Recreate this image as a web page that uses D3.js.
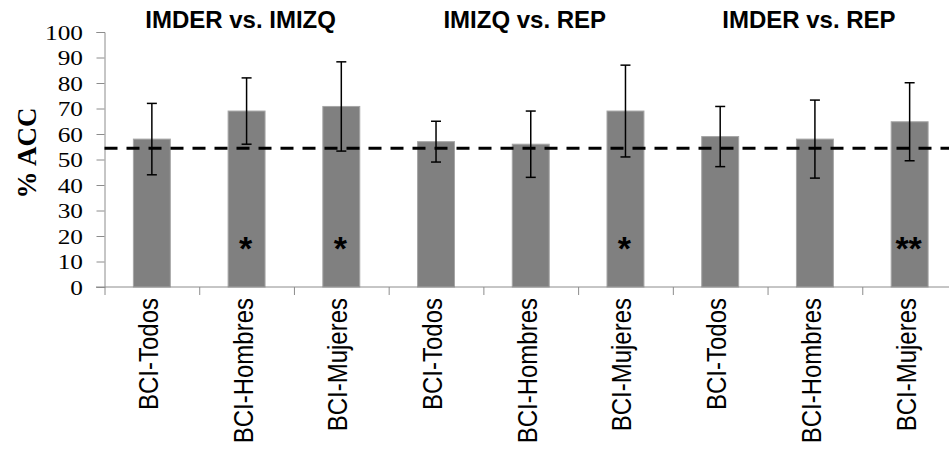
<!DOCTYPE html>
<html>
<head>
<meta charset="utf-8">
<script src="https://cdn.jsdelivr.net/npm/d3@7"></script>
<style>
  html, body { margin: 0; padding: 0; background: #fff; }
</style>
</head>
<body>
<div id="viz"></div>
<script>
// Data (% ACC per classifier, three comparisons).
var categories = ["BCI-Todos", "BCI-Hombres", "BCI-Mujeres",
                  "BCI-Todos", "BCI-Hombres", "BCI-Mujeres",
                  "BCI-Todos", "BCI-Hombres", "BCI-Mujeres"];
var accValues  = [58, 69, 70.8, 57, 56, 69, 59, 58, 64.8];
var accErrors  = [14, 13, 17.5, 8, 13, 18, 11.8, 15.3, 15.3];
var signif     = ["", "*", "*", "", "", "*", "", "", "**"];
var groupTitles = ["IMDER vs. IMIZQ", "IMIZQ vs. REP", "IMDER vs. REP"];
var yTicks     = [0, 10, 20, 30, 40, 50, 60, 70, 80, 90, 100];
var chanceLevel = 54.4;
var starLevel   = 17.4;

var width = 949, height = 450;

// svg "canvas"
var svg = d3.select("#viz")
            .append("svg")
              .attr("width", width)
              .attr("height", height);

// scales
var x = d3.scaleBand()
          .domain(d3.range(categories.length))
          .range([104.5, 957])
          .paddingInner(0.61)
          .paddingOuter(0.305);

var xEdge = d3.scaleLinear()
              .domain([0, categories.length])
              .range([104.5, 957]);

var y = d3.scaleLinear()
          .domain([0, 100])
          .range([287, 32]);

// bars
svg.append("g")
   .selectAll("rect")
   .data(accValues)
   .join("rect")
     .attr("x", function(d, i){ return x(i); })
     .attr("y", function(d){ return y(d); })
     .attr("width", x.bandwidth())
     .attr("height", function(d){ return y(0) - y(d); })
     .style("fill", "#808080")
     .style("stroke", "#a6a6a6")
     .style("stroke-width", 1);

// y axis (labels are a bit wider than plain Times in the original)
var yAxis = svg.append("g")
               .attr("transform", "translate(104.5,0)")
               .call(d3.axisLeft(y).tickValues(yTicks).tickSize(8));
yAxis.selectAll("line, path").style("stroke", "#8c8c8c");
yAxis.selectAll("text")
     .attr("x", 0)
     .attr("transform", "translate(-21.5,0) scale(1.15,1)")
     .style("font-family", "'Liberation Serif', 'Times New Roman', serif")
     .style("font-size", "22px")
     .style("fill", "#000");

// x axis: ticks sit between the bars, labels are drawn separately
var xAxis = svg.append("g")
               .attr("transform", "translate(0," + y(0) + ")")
               .call(d3.axisBottom(xEdge).tickValues(d3.range(categories.length + 1))
                       .tickSize(8).tickFormat(""));
xAxis.select("path").attr("d", "M96,0H949");
xAxis.selectAll("line, path").style("stroke", "#8c8c8c");

svg.append("g")
   .selectAll("text")
   .data(categories)
   .join("text")
     .attr("transform", function(d, i){
        return "translate(" + (x(i) + x.bandwidth() / 2 + 6) + ",298) rotate(-90) scale(1,1.12)";
     })
     .attr("text-anchor", "end")
     .style("font-family", "'Liberation Sans', Arial, sans-serif")
     .style("font-size", "24px")
     .style("fill", "#000")
     .text(function(d){ return d; });

// chance level (dashed)
svg.append("line")
   .attr("x1", 104.5)
   .attr("x2", width)
   .attr("y1", y(chanceLevel))
   .attr("y2", y(chanceLevel))
   .style("stroke", "#000")
   .style("stroke-width", 3)
   .style("stroke-dasharray", "13,9");

// error bars
var eb = svg.append("g")
            .selectAll("g")
            .data(accValues)
            .join("g")
              .attr("transform", function(d, i){ return "translate(" + (x(i) + x.bandwidth() / 2) + ",0)"; });
eb.append("line")
  .attr("y1", function(d, i){ return y(d + accErrors[i]); })
  .attr("y2", function(d, i){ return y(d - accErrors[i]); });
eb.append("line")
  .attr("x1", -5).attr("x2", 5)
  .attr("y1", function(d, i){ return y(d + accErrors[i]); })
  .attr("y2", function(d, i){ return y(d + accErrors[i]); });
eb.append("line")
  .attr("x1", -5).attr("x2", 5)
  .attr("y1", function(d, i){ return y(d - accErrors[i]); })
  .attr("y2", function(d, i){ return y(d - accErrors[i]); });
eb.selectAll("line").style("stroke", "#000").style("stroke-width", 1.5);

// significance stars
svg.append("g")
   .selectAll("text")
   .data(signif)
   .join("text")
     .attr("x", function(d, i){ return x(i) + x.bandwidth() / 2 - 1; })
     .attr("y", y(starLevel) + 17)
     .attr("text-anchor", "middle")
     .style("font-family", "'Liberation Sans', Arial, sans-serif")
     .style("font-weight", "bold")
     .style("font-size", "34px")
     .style("fill", "#000")
     .text(function(d){ return d; });

// group titles, over the middle bar of each group
svg.append("g")
   .selectAll("text")
   .data(groupTitles)
   .join("text")
     .attr("x", function(d, i){ return x(i * 3 + 1) + x.bandwidth() / 2 - 6; })
     .attr("y", 28)
     .attr("text-anchor", "middle")
     .style("font-family", "'Liberation Sans', Arial, sans-serif")
     .style("font-weight", "bold")
     .style("font-size", "24px")
     .style("fill", "#000")
     .text(function(d){ return d; });

// y axis title
svg.append("text")
   .attr("transform", "translate(36,153) rotate(-90)")
   .attr("text-anchor", "middle")
   .style("font-family", "'Liberation Serif', 'Times New Roman', serif")
   .style("font-weight", "bold")
   .style("font-size", "27px")
   .style("fill", "#000")
   .text("% ACC");
</script>
</body>
</html>
